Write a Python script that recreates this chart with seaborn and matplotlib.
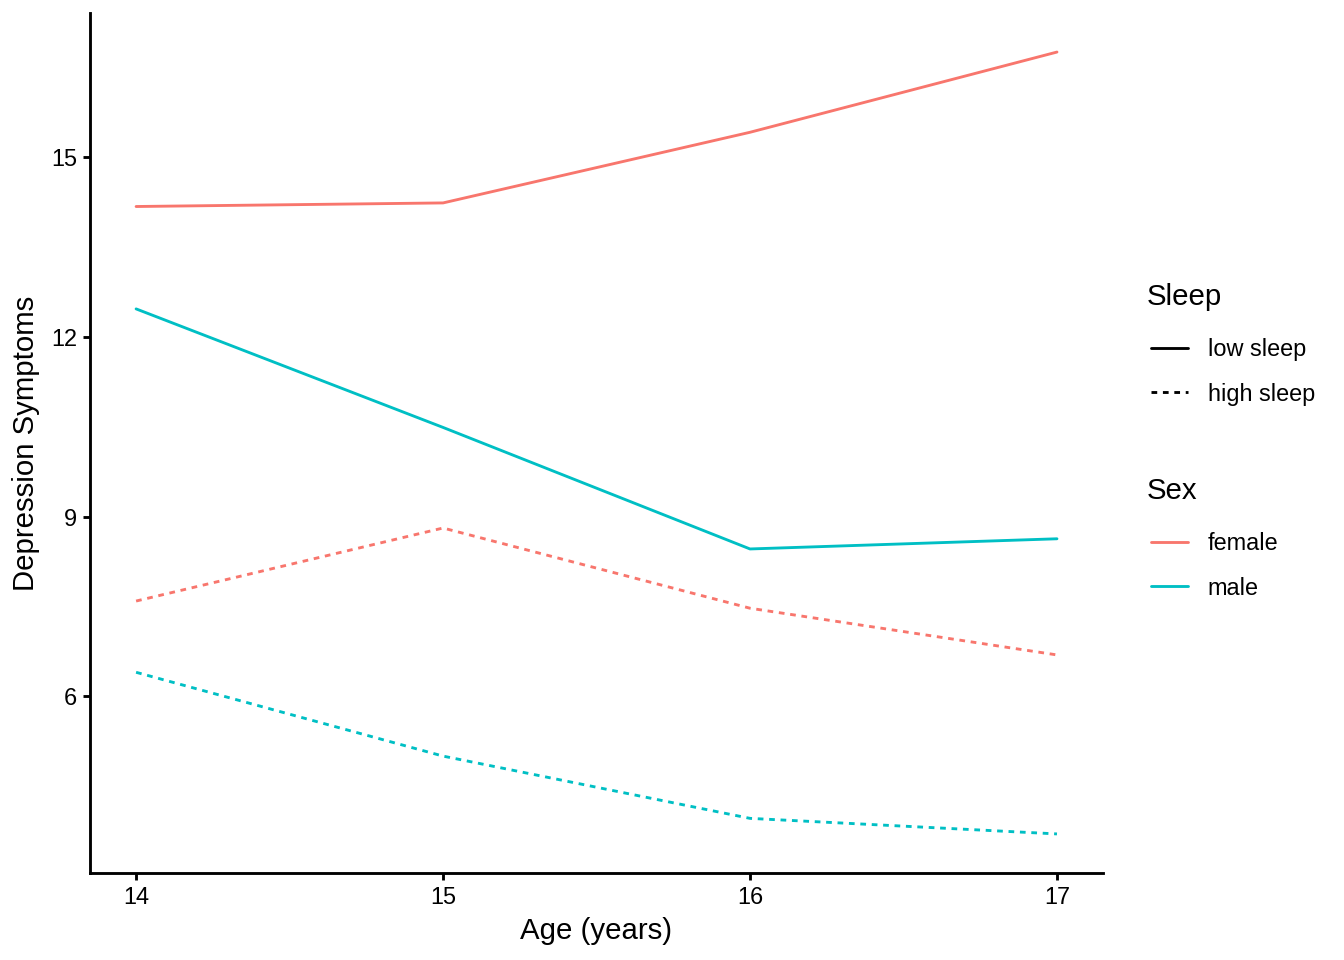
import pandas as pd
import numpy as np
import matplotlib.pyplot as plt
import seaborn as sns
from matplotlib.lines import Line2D

# values
ages = [14, 15, 16, 17]
female_low = [14.18, 14.24, 15.42, 16.76]
male_low = [12.47, 10.49, 8.46, 8.63]
female_high = [7.59, 8.81, 7.47, 6.69]
male_high = [6.40, 5.00, 3.96, 3.70]

rows = []
for sex, sleep, vals in [("female", "low sleep", female_low), ("male", "low sleep", male_low),
                         ("female", "high sleep", female_high), ("male", "high sleep", male_high)]:
    for a, v in zip(ages, vals):
        rows.append({"Age": a, "Depression": v, "Sex": sex, "Sleep": sleep})
df = pd.DataFrame(rows)

pal = {"female": "#F8766D", "male": "#00BFC4"}
dash = {"low sleep": "", "high sleep": (2, 2)}

sns.set_theme(style="ticks")
plt.rcParams["font.family"] = ["Liberation Sans", "DejaVu Sans"]
plt.rcParams["text.color"] = "black"

fig = plt.figure(figsize=(7, 5), dpi=192)
ax = fig.add_axes([0.067, 0.0906, 0.8207 - 0.067, 0.9865 - 0.0906])
sns.lineplot(data=df, x="Age", y="Depression", hue="Sex", style="Sleep", palette=pal,
             dashes=dash, linewidth=1.07, legend=False, ax=ax)

ax.set_xlim(13.85, 17.15)
ax.set_ylim(3.047, 17.413)
ax.set_xticks(ages)
ax.set_yticks([6, 9, 12, 15])
ax.set_xlabel("Age (years)", fontsize=11, color="black", labelpad=3)
ax.set_ylabel("Depression Symptoms", fontsize=11, color="black", labelpad=4)
ax.tick_params(labelsize=8.8, length=2.75, width=1.07, pad=2.2, colors="black", labelcolor="black")
for s in ["left", "bottom"]:
    ax.spines[s].set_linewidth(1.07)
    ax.spines[s].set_color("black")
sns.despine(ax=ax)

# two separate legends like ggplot's guides
sleep_h = [Line2D([], [], color="black", lw=1.07, linestyle="-"),
           Line2D([], [], color="black", lw=1.07, dashes=(2, 2))]
sex_h = [Line2D([], [], color=pal["female"], lw=1.07),
         Line2D([], [], color=pal["male"], lw=1.07)]
common = dict(frameon=False, fontsize=8.8, title_fontsize=11, alignment="left",
              handlelength=1.55, handletextpad=0.85, labelspacing=0.92, borderaxespad=0,
              labelcolor="black")
leg1 = fig.legend(sleep_h, ["low sleep", "high sleep"], title="Sleep", loc="upper left",
                  bbox_to_anchor=(1137 / 1344, 1 - 274 / 960), **common)
leg2 = fig.legend(sex_h, ["female", "male"], title="Sex", loc="upper left",
                  bbox_to_anchor=(1137 / 1344, 1 - 468 / 960), **common)
for lg in (leg1, leg2):
    lg._legend_handle_box.pad = 1.9

fig.savefig("out.png", dpi=192)
